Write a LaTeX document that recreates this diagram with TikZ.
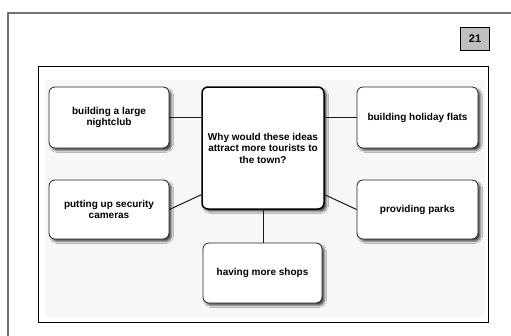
\documentclass[tikz,border=0pt]{standalone}
\usepackage{fontspec}
\setmainfont{Liberation Sans}
\usetikzlibrary{shadows.blur,calc}
\tikzset{
  idea/.style={draw=black!85, line width=0.8pt, fill=white, rounded corners=6pt,
    minimum width=#1, align=center, font=\bfseries\fontsize{10}{11.5}\selectfont,
    blur shadow={shadow xshift=2.5pt, shadow yshift=-2.5pt, shadow blur radius=2pt, shadow opacity=70}},
  link/.style={draw=black!90, line width=1pt},
}
\begin{document}
\begin{tikzpicture}[x=1pt,y=-1pt]
\useasboundingbox (0,0) rectangle (511,335);
\fill[white] (0,0) rectangle (511,335);
\draw[black!55, line width=1.5pt] (8,336) |- (512,13);
\node[draw=black, line width=0.8pt, fill=black!25, minimum width=29pt, minimum height=23pt,
  inner sep=0pt, font=\bfseries\fontsize{11}{13}\selectfont] (badge) at (475,38.5) {21};
\draw[black, line width=0.8pt] (38.5,66) rectangle (488,322);
\fill[black!3] (45,80) rectangle (485,317);
\node[idea=120pt, minimum height=61pt] (nc) at (109,117.5) {building a large\\nightclub};
\node[idea=120pt, minimum height=59pt] (cam) at (109,209.5) {putting up security\\cameras};
\node[idea=122pt, minimum height=122pt, line width=1.5pt, draw=black] (ctr) at (263,148)
  {Why would these ideas\\attract more tourists to\\the town?};
\node[idea=119pt, minimum height=60pt] (shop) at (262.5,273) {having more shops};
\node[idea=121pt, minimum height=61pt] (flat) at (417.5,117.5) {building holiday flats};
\node[idea=121pt, minimum height=59pt] (park) at (417.5,209.5) {providing parks};
\draw[link] (nc.east) -- (nc.east -| ctr.west);
\draw[link] (flat.west) -- (flat.west -| ctr.east);
\draw[link] (cam.east) -- ($(ctr.south west)+(0,-15)$);
\draw[link] (park.west) -- ($(ctr.south east)+(0,-15)$);
\draw[link] (ctr.south) -- (ctr.south |- shop.north);
\end{tikzpicture}
\end{document}
